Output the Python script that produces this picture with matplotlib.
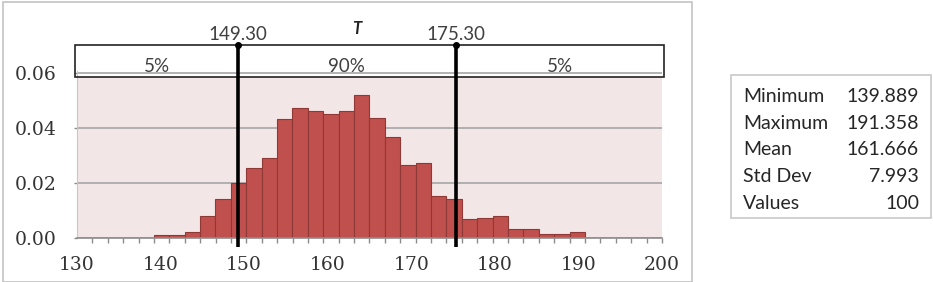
import numpy as np
import matplotlib
matplotlib.use('Agg')
import matplotlib.pyplot as plt
from matplotlib.patches import Rectangle
from matplotlib.ticker import FixedLocator, FormatStrFormatter

# histogram of T (density per bin)
bin_start = 139.2
bin_width = 1.842
density = [0.001, 0.001, 0.002, 0.008, 0.014, 0.020, 0.0255, 0.029,
           0.043, 0.047, 0.046, 0.045, 0.046, 0.052, 0.0435, 0.0365,
           0.0265, 0.027, 0.015, 0.014, 0.0067, 0.0073, 0.008, 0.003,
           0.003, 0.0012, 0.0012, 0.002]
x_ticks = [130, 140, 150, 160, 170, 180, 190, 200]
y_ticks = [0.00, 0.02, 0.04, 0.06]
delimiters = [149.30, 175.30]
region_labels = ['5%', '90%', '5%']
stat_names = ['Minimum', 'Maximum', 'Mean', 'Std Dev', 'Values']
stat_values = ['139.889', '191.358', '161.666', '7.993', '100']

W, H = 933, 282
fig = plt.figure(figsize=(W / 100, H / 100), dpi=100)

y0_px = 237.7      # pixel row of y = 0
ppu = 2750.0       # pixels per y unit
ax = fig.add_axes([77 / W, 1 - y0_px / H, 585 / W, 0.0605 * ppu / H])
ax.set_facecolor('#f3e6e6')
ax.set_xlim(130, 200)
ax.set_ylim(0, 0.0605)

lefts = bin_start + bin_width * np.arange(len(density))
ax.bar(lefts, density, width=bin_width, align='edge', color='#c0504d',
       edgecolor='#8e3936', linewidth=0.8, zorder=2)

# grid
ax.set_axisbelow(True)
ax.yaxis.grid(True, color='#a6a6a6', linewidth=1.2)
for s in ['top', 'right']:
    ax.spines[s].set_visible(False)
ax.spines['left'].set_color('#cfc4c4')
ax.spines['left'].set_linewidth(0.8)
ax.spines['bottom'].set_color('#8c8c8c')
ax.spines['bottom'].set_linewidth(1.2)

tick_font = dict(family='DejaVu Serif', size=13.5)
ax.set_xticks(x_ticks)
ax.set_xticklabels([str(t) for t in x_ticks], fontdict=tick_font, color='#333333')
ax.tick_params(axis='x', which='major', length=0, pad=13)
ax.xaxis.set_minor_locator(FixedLocator(130 + bin_width * np.arange(39)))
ax.tick_params(axis='x', which='minor', length=3.6, width=1, color='#8c8c8c')
ax.set_yticks(y_ticks)
ax.yaxis.set_major_formatter(FormatStrFormatter('%.2f'))
for lab in ax.get_yticklabels():
    lab.set_fontfamily('DejaVu Serif')
    lab.set_fontsize(13.5)
    lab.set_color('#333333')
ax.tick_params(axis='y', length=2.5, width=1, color='#8c8c8c', pad=12)

# top band with delimiters
box_l, box_r = 129.76, 200.24
box_b, box_t = 0.0584, 0.0701
ax.add_patch(Rectangle((box_l, box_b), box_r - box_l, box_t - box_b,
                       facecolor='white', edgecolor='none', zorder=0.4, clip_on=False))
ax.add_patch(Rectangle((box_l, box_b), box_r - box_l, box_t - box_b,
                       facecolor='none', edgecolor='#222222', linewidth=1.2,
                       zorder=5, clip_on=False))

lab_font = dict(family='Lato', size=13.5, color='#404040')
for d in delimiters:
    ax.plot([d, d], [-0.0033, box_t], color='black', linewidth=2.6,
            zorder=6, clip_on=False, solid_capstyle='butt')
    ax.plot([d], [box_t], 'o', color='black', markersize=4, zorder=7, clip_on=False)
    ax.text(d, box_t + 0.0019, '%.2f' % d, ha='center', va='baseline', **lab_font)

edges = [box_l] + delimiters + [box_r]
for i, txt in enumerate(region_labels):
    ax.text((edges[i] + edges[i + 1]) / 2, 0.0601, txt, ha='center',
            va='baseline', zorder=6, **lab_font)

fig.text(357 / W, 1 - 34 / H, 'T', ha='center', va='baseline', family='Lato',
         fontsize=12, fontweight='bold', fontstyle='italic', color='#222222')

# outer chart border
fig.patches.append(Rectangle((3 / W, 0), 689 / W, 1 - 2 / H, transform=fig.transFigure,
                             fill=False, edgecolor='#c4c4c4', linewidth=1.2))

# stats box
fig.patches.append(Rectangle((731 / W, 1 - 218 / H), 200 / W, 143 / H,
                             transform=fig.transFigure, facecolor='white',
                             edgecolor='#c8c8c8', linewidth=1.2))
for i, (n, v) in enumerate(zip(stat_names, stat_values)):
    yy = 1 - (102 + i * 26.7) / H
    fig.text(743 / W, yy, n, ha='left', va='baseline', family='Lato',
             fontsize=14, color='#262626')
    fig.text(919 / W, yy, v, ha='right', va='baseline', family='Lato',
             fontsize=14, color='#262626')

fig.savefig('out.png', dpi=100)
